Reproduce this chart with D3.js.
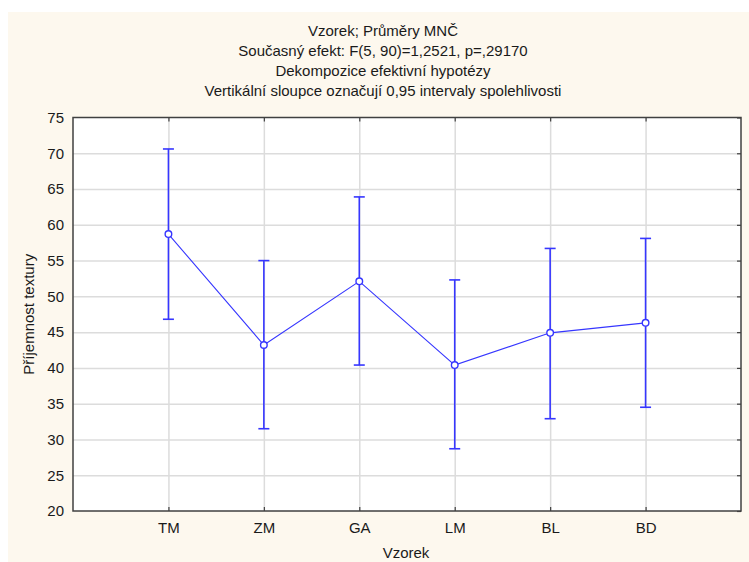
<!DOCTYPE html>
<html>
<head>
<meta charset="utf-8">
<script src="https://cdn.jsdelivr.net/npm/d3@7"></script>
<style>
  html, body { margin: 0; padding: 0; background: #ffffff; }
  svg { display: block; }
  text { font-family: "Liberation Sans", Arial, sans-serif; fill: #1a1a1a; }
</style>
</head>
<body>
<svg id="chart" width="749" height="562"></svg>
<script>
// ---- data ----
const categories = ["TM", "ZM", "GA", "LM", "BL", "BD"];
const means = [58.7, 43.2, 52.1, 40.4, 44.9, 46.3];
const upperCI = [70.6, 55.0, 63.9, 52.3, 56.7, 58.1];
const lowerCI = [46.8, 31.5, 40.4, 28.7, 32.9, 34.5];
const yTicks = [20, 25, 30, 35, 40, 45, 50, 55, 60, 65, 70, 75];
const titleLines = [
  "Vzorek; Průměry MNČ",
  "Současný efekt: F(5, 90)=1,2521, p=,29170",
  "Dekompozice efektivní hypotézy",
  "Vertikální sloupce označují 0,95 intervaly spolehlivosti"
];
const xTitle = "Vzorek";
const yTitle = "Příjemnost textury";

// ---- layout ----
const W = 749, H = 562;
const L = 73, R = 741, T = 117.5, B = 511;
const blue = "#3636ff";

const svg = d3.select("#chart");
svg.append("rect").attr("x", 8).attr("y", 12).attr("width", W - 8).attr("height", H - 12).attr("fill", "#fdf8ee");

const x = d3.scalePoint().domain(categories).range([L, R]).padding(1);
const y = d3.scaleLinear().domain([20, 75]).range([B, T]);

// plot background
svg.append("rect").attr("x", L).attr("y", T).attr("width", R - L).attr("height", B - T).attr("fill", "#ffffff");

// gridlines
const gy = svg.append("g").attr("transform", `translate(${L},0)`)
  .call(d3.axisLeft(y).tickValues(yTicks.filter(v => v > 20 && v < 75)).tickSize(-(R - L)).tickFormat(""));
gy.select(".domain").remove();
gy.selectAll("line").attr("stroke", "#dcdcdc").attr("stroke-width", 1.5);

const gx = svg.append("g").attr("transform", `translate(0,${B})`)
  .call(d3.axisBottom(x).tickSize(-(B - T)).tickFormat(""));
gx.select(".domain").remove();
gx.selectAll("line").attr("stroke", "#dcdcdc").attr("stroke-width", 1.5);

// inner tick marks (top, bottom, right)
const tTop = svg.append("g").attr("transform", `translate(0,${T})`)
  .call(d3.axisBottom(x).tickSize(4).tickFormat(""));
tTop.select(".domain").remove();
tTop.selectAll("line").attr("stroke", "#404040").attr("stroke-width", 1.2);

const tBot = svg.append("g").attr("transform", `translate(0,${B})`)
  .call(d3.axisTop(x).tickSize(4).tickFormat(""));
tBot.select(".domain").remove();
tBot.selectAll("line").attr("stroke", "#404040").attr("stroke-width", 1.2);

const tRight = svg.append("g").attr("transform", `translate(${R},0)`)
  .call(d3.axisLeft(y).tickValues(yTicks).tickSize(4).tickFormat(""));
tRight.select(".domain").remove();
tRight.selectAll("line").attr("stroke", "#404040").attr("stroke-width", 1.2);

// frame
svg.append("rect").attr("x", L).attr("y", T).attr("width", R - L).attr("height", B - T)
  .attr("fill", "none").attr("stroke", "#404040").attr("stroke-width", 1.5);

// y tick labels
const yl = svg.append("g").attr("transform", `translate(${L},0)`)
  .call(d3.axisLeft(y).tickValues(yTicks).tickSize(0).tickPadding(9));
yl.select(".domain").remove();
yl.selectAll("text").attr("font-size", 15).attr("font-family", "Liberation Sans, Arial, sans-serif").attr("fill", "#1a1a1a");

// x tick labels
const xl = svg.append("g").attr("transform", `translate(0,${B})`)
  .call(d3.axisBottom(x).tickSize(0).tickPadding(11));
xl.select(".domain").remove();
xl.selectAll("text").attr("font-size", 15).attr("font-family", "Liberation Sans, Arial, sans-serif").attr("fill", "#1a1a1a");

// titles
svg.append("g").selectAll("text").data(titleLines).join("text")
  .attr("x", 383).attr("y", (d, i) => 35.5 + i * 20)
  .attr("text-anchor", "middle").attr("font-size", 15).text(d => d);

svg.append("text").attr("x", 406).attr("y", 558).attr("text-anchor", "middle").attr("font-size", 15).text(xTitle);
svg.append("text").attr("transform", `translate(34,${(T + B) / 2}) rotate(-90)`)
  .attr("text-anchor", "middle").attr("font-size", 15).text(yTitle);

// error bars
const eb = svg.append("g").attr("stroke", blue).attr("stroke-width", 1.6).attr("fill", "none");
categories.forEach((c, i) => {
  const cx = x(c);
  eb.append("line").attr("x1", cx).attr("x2", cx).attr("y1", y(lowerCI[i])).attr("y2", y(upperCI[i]));
  eb.append("line").attr("x1", cx - 5.5).attr("x2", cx + 5.5).attr("y1", y(lowerCI[i])).attr("y2", y(lowerCI[i]));
  eb.append("line").attr("x1", cx - 5.5).attr("x2", cx + 5.5).attr("y1", y(upperCI[i])).attr("y2", y(upperCI[i]));
});

// mean line
const line = d3.line().x((d, i) => x(categories[i])).y(d => y(d));
svg.append("path").datum(means).attr("d", line).attr("fill", "none").attr("stroke", blue).attr("stroke-width", 1.1);

// markers
svg.append("g").selectAll("circle").data(means).join("circle")
  .attr("cx", (d, i) => x(categories[i])).attr("cy", d => y(d)).attr("r", 3.3)
  .attr("fill", "#ffffff").attr("stroke", blue).attr("stroke-width", 1.4);
</script>
</body>
</html>
